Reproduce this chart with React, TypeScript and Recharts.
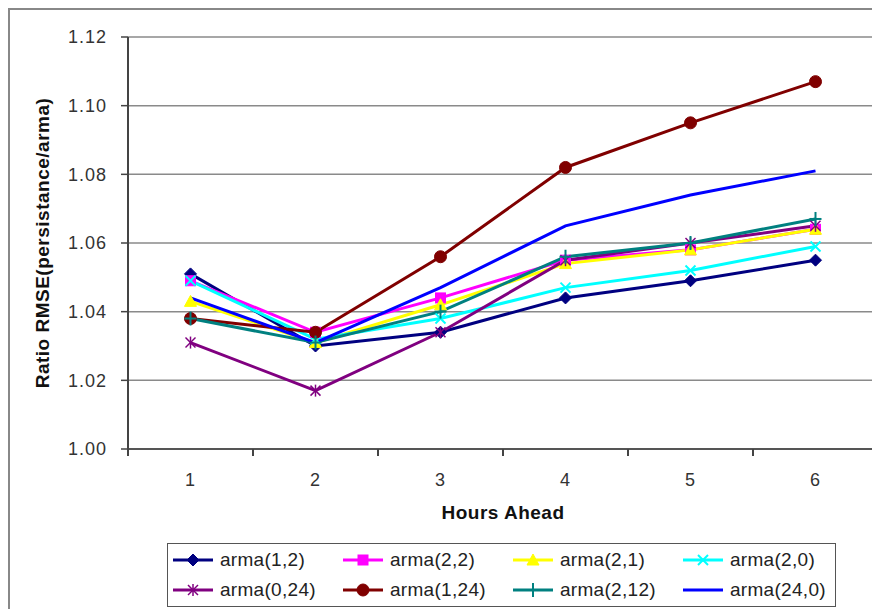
import { LineChart, Line, XAxis, YAxis, CartesianGrid, Legend, ReferenceLine } from 'recharts';

// hours ahead (categories) and the band edges used for the Excel-style tick marks
const hours = [1, 2, 3, 4, 5, 6];
const bandEdges = [0.5, 1.5, 2.5, 3.5, 4.5, 5.5, 6.5];
const yTicks = [1.0, 1.02, 1.04, 1.06, 1.08, 1.1, 1.12];

// ratio RMSE(persistance/arma) per model
const arma12 = [1.051, 1.03, 1.034, 1.044, 1.049, 1.055];
const arma22 = [1.049, 1.034, 1.044, 1.055, 1.058, 1.064];
const arma21 = [1.043, 1.031, 1.042, 1.054, 1.058, 1.064];
const arma20 = [1.049, 1.032, 1.038, 1.047, 1.052, 1.059];
const arma024 = [1.031, 1.017, 1.034, 1.055, 1.06, 1.065];
const arma124 = [1.038, 1.034, 1.056, 1.082, 1.095, 1.107];
const arma212 = [1.038, 1.031, 1.04, 1.056, 1.06, 1.067];
const arma240 = [1.044, 1.031, 1.047, 1.065, 1.074, 1.081];

type Shape = 'diamond' | 'square' | 'triangle' | 'x' | 'star' | 'circle' | 'plus' | 'none';

const series: { key: string; name: string; color: string; shape: Shape; values: number[] }[] = [
  { key: 'a12', name: 'arma(1,2)', color: '#000080', shape: 'diamond', values: arma12 },
  { key: 'a22', name: 'arma(2,2)', color: '#ff00ff', shape: 'square', values: arma22 },
  { key: 'a21', name: 'arma(2,1)', color: '#ffff00', shape: 'triangle', values: arma21 },
  { key: 'a20', name: 'arma(2,0)', color: '#00ffff', shape: 'x', values: arma20 },
  { key: 'a024', name: 'arma(0,24)', color: '#800080', shape: 'star', values: arma024 },
  { key: 'a124', name: 'arma(1,24)', color: '#800000', shape: 'circle', values: arma124 },
  { key: 'a212', name: 'arma(2,12)', color: '#008080', shape: 'plus', values: arma212 },
  { key: 'a240', name: 'arma(24,0)', color: '#0000ff', shape: 'none', values: arma240 },
];

const data = hours.map((h, i) => {
  const row: Record<string, number> = { hour: h };
  series.forEach((s) => { row[s.key] = s.values[i]; });
  return row;
});

const font = '"Liberation Sans", Arial, sans-serif';

function Marker({ shape, color, cx, cy }: { shape: Shape; color: string; cx: number; cy: number }) {
  switch (shape) {
    case 'diamond':
      return <polygon points={`${cx},${cy - 6} ${cx + 6},${cy} ${cx},${cy + 6} ${cx - 6},${cy}`} fill={color} stroke={color} />;
    case 'square':
      return <rect x={cx - 5} y={cy - 5} width={10} height={10} fill={color} stroke={color} />;
    case 'triangle':
      return <polygon points={`${cx},${cy - 6} ${cx + 6},${cy + 5} ${cx - 6},${cy + 5}`} fill={color} stroke={color} />;
    case 'x':
      return (
        <g stroke={color} strokeWidth={2}>
          <line x1={cx - 5} y1={cy - 5} x2={cx + 5} y2={cy + 5} />
          <line x1={cx - 5} y1={cy + 5} x2={cx + 5} y2={cy - 5} />
        </g>
      );
    case 'star':
      return (
        <g stroke={color} strokeWidth={1.5}>
          <line x1={cx - 5} y1={cy - 5} x2={cx + 5} y2={cy + 5} />
          <line x1={cx - 5} y1={cy + 5} x2={cx + 5} y2={cy - 5} />
          <line x1={cx} y1={cy - 6} x2={cx} y2={cy + 6} />
        </g>
      );
    case 'circle':
      return <circle cx={cx} cy={cy} r={6} fill={color} stroke={color} />;
    case 'plus':
      return (
        <g stroke={color} strokeWidth={2}>
          <line x1={cx} y1={cy - 7} x2={cx} y2={cy + 7} />
          <line x1={cx - 6} y1={cy} x2={cx + 6} y2={cy} />
        </g>
      );
    default:
      return <g />;
  }
}

function LegendBox() {
  return (
    <div
      style={{
        marginLeft: 157,
        width: 669,
        height: 64,
        boxSizing: 'border-box',
        border: '1px solid #555',
        display: 'grid',
        gridTemplateColumns: 'repeat(4, 170px)',
        gridTemplateRows: '30px 30px',
        paddingLeft: 4,
        paddingTop: 1,
        fontFamily: font,
        fontSize: 19,
        letterSpacing: 0.3,
        color: '#222',
      }}
    >
      {series.map((s) => (
        <div key={s.key} style={{ display: 'flex', alignItems: 'center' }}>
          <svg width={42} height={16} style={{ marginRight: 6 }}>
            <line x1={1} y1={8} x2={41} y2={8} stroke={s.color} strokeWidth={3} />
            <Marker shape={s.shape} color={s.color} cx={21} cy={8} />
          </svg>
          <span>{s.name}</span>
        </div>
      ))}
    </div>
  );
}

export default function App() {
  return (
    <div
      style={{
        width: 872,
        height: 601,
        borderTop: '2px solid #888',
        borderLeft: '2px solid #888',
        boxSizing: 'border-box',
        overflow: 'hidden',
      }}
    >
      <LineChart
        width={870}
        height={599}
        data={data}
        margin={{ top: 27, right: 2, left: 0, bottom: 2 }}
        style={{ fontFamily: font }}
      >
        <CartesianGrid xAxisId="hours" vertical={false} stroke="#8a8a8a" strokeWidth={1.5} />
        <XAxis
          xAxisId="bands"
          type="number"
          dataKey="hour"
          domain={[0.5, 6.5]}
          allowDataOverflow
          ticks={bandEdges}
          interval={0}
          tick={() => <g />}
          tickSize={7}
          tickLine={{ stroke: '#444', strokeWidth: 2 }}
          axisLine={{ stroke: '#555', strokeWidth: 2 }}
          height={2}
        />
        <XAxis
          xAxisId="hours"
          type="number"
          dataKey="hour"
          domain={[0.5, 6.5]}
          allowDataOverflow
          ticks={hours}
          interval={0}
          axisLine={false}
          tickLine={false}
          tickSize={0}
          tickMargin={22}
          height={92}
          tick={{ fill: '#333', fontSize: 18, letterSpacing: 1 }}
          label={{
            value: 'Hours Ahead',
            position: 'insideBottom',
            offset: 24,
            fill: '#111',
            fontSize: 19,
            fontWeight: 'bold',
            letterSpacing: 0.5,
          }}
        />
        <YAxis
          domain={[1.0, 1.12]}
          ticks={yTicks}
          tickFormatter={(v: number) => v.toFixed(2)}
          width={118}
          tickSize={7}
          tickMargin={14}
          axisLine={{ stroke: '#444', strokeWidth: 2 }}
          tickLine={{ stroke: '#444', strokeWidth: 1.5 }}
          tick={{ fill: '#333', fontSize: 18, letterSpacing: 1 }}
          label={{
            value: 'Ratio RMSE(persistance/arma)',
            angle: -90,
            position: 'insideLeft',
            offset: 32,
            fill: '#111',
            fontSize: 19,
            fontWeight: 'bold',
            letterSpacing: 0.5,
            style: { textAnchor: 'middle' },
          }}
        />
        <ReferenceLine xAxisId="hours" x={6.5} stroke="#8a8a8a" strokeWidth={1.5} />
        {series.map((s) => (
          <Line
            key={s.key}
            xAxisId="hours"
            type="linear"
            dataKey={s.key}
            name={s.name}
            stroke={s.color}
            strokeWidth={3}
            isAnimationActive={false}
            dot={(p: any) => <Marker key={`${s.key}-${p.index}`} shape={s.shape} color={s.color} cx={p.cx} cy={p.cy} />}
            activeDot={false}
          />
        ))}
        <Legend verticalAlign="bottom" content={() => <LegendBox />} />
      </LineChart>
    </div>
  );
}
